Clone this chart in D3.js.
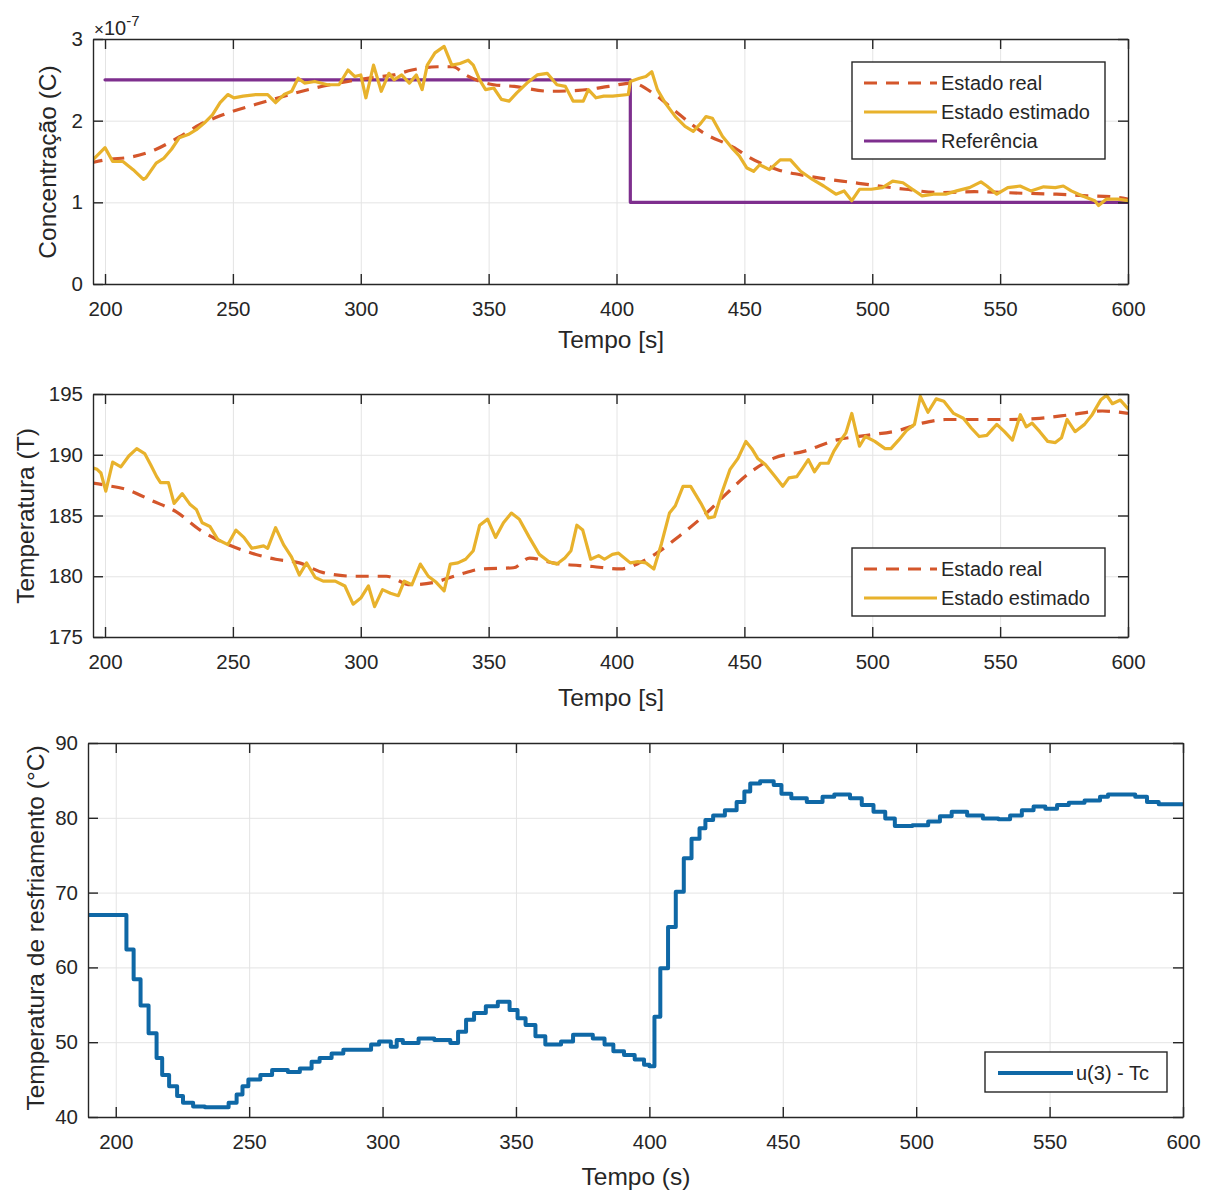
<!DOCTYPE html>
<html><head><meta charset="utf-8">
<script src="https://cdn.jsdelivr.net/npm/d3@7"></script>
<style>
html,body{margin:0;padding:0;background:#fff;}
svg{display:block;font-family:"Liberation Sans",Arial,Helvetica,sans-serif;}
</style></head>
<body>
<svg id="chart" width="1213" height="1191"></svg>
<script>
// ---------------- DATA ----------------
const xTicks = [200, 250, 300, 350, 400, 450, 500, 550, 600];
const concTicks = [0, 1, 2, 3];          // ×10^-7
const tempTicks = [175, 180, 185, 190, 195];
const coolTicks = [40, 50, 60, 70, 80, 90];
const concExponent = "-7";

const legendTop = ["Estado real", "Estado estimado", "Referência"];
const legendMid = ["Estado real", "Estado estimado"];
const legendBot = ["u(3) - Tc"];

// Concentração (×10^-7): [tempo, valor]
const concReal = [[194,1.48],[200,1.52],[211,1.56],[220,1.65],[229,1.80],[237,1.95],[245,2.06],[259,2.20],[270,2.30],[282,2.40],[295,2.48],[305,2.53],[313,2.56],[320,2.62],[330,2.66],[336,2.66],[341,2.56],[352,2.44],[360,2.42],[374,2.36],[385,2.37],[397,2.42],[406,2.46],[415,2.32],[424,2.09],[434,1.85],[446,1.67],[452,1.55],[463,1.40],[475,1.32],[493,1.24],[513,1.16],[526,1.12],[540,1.13],[560,1.11],[572,1.10],[584,1.08],[593,1.07],[600,1.04]];
const concEstimated = [[194,1.48],[200,1.67],[203,1.50],[207,1.50],[211,1.40],[215,1.28],[216,1.30],[220,1.48],[223,1.54],[226,1.65],[229,1.79],[232.5,1.83],[235.7,1.89],[238.8,1.97],[242,2.07],[245,2.22],[248,2.32],[250.4,2.28],[254,2.30],[259,2.32],[263.6,2.32],[266.7,2.22],[270,2.32],[273,2.36],[275.5,2.52],[278,2.46],[282,2.48],[287,2.44],[291.5,2.44],[295,2.62],[297.7,2.54],[300,2.56],[302,2.28],[305,2.68],[308,2.36],[311,2.58],[313,2.50],[316,2.56],[319,2.46],[321.7,2.56],[324,2.38],[326,2.68],[329,2.83],[332.6,2.91],[335.6,2.68],[338.8,2.70],[342,2.74],[344,2.68],[346.5,2.50],[348.8,2.38],[352,2.40],[355,2.26],[358,2.24],[361,2.34],[365,2.46],[369,2.56],[372.9,2.58],[376.7,2.44],[380,2.42],[383,2.24],[387,2.24],[389,2.38],[392,2.28],[395,2.30],[398.5,2.30],[404.6,2.32],[405.4,2.48],[409,2.52],[411.5,2.54],[413.8,2.60],[416,2.38],[419,2.22],[423,2.05],[426.8,1.93],[430,1.87],[433,1.97],[435,2.05],[437.5,2.03],[441.4,1.81],[445,1.67],[448,1.57],[451,1.42],[453.6,1.38],[456,1.46],[459.8,1.40],[464,1.52],[468,1.52],[472,1.38],[476.6,1.28],[481,1.20],[485.8,1.10],[489,1.14],[492,1.02],[495,1.16],[499.6,1.16],[504,1.18],[508,1.26],[512,1.24],[515.7,1.16],[519.5,1.08],[524,1.10],[528.7,1.10],[533,1.14],[538,1.18],[542.5,1.25],[544.8,1.20],[548.7,1.10],[553,1.18],[557.8,1.20],[562,1.14],[567,1.19],[571.6,1.18],[574.7,1.20],[577.8,1.14],[582,1.08],[587,1.02],[588.5,0.96],[591.6,1.04],[596,1.04],[600,1.02]];
const concReference = [[200,2.5],[405.4,2.5],[405.4,1.0],[600,1.0]];

// Temperatura (T): [tempo, valor]
const tempReal = [[194,187.7],[200,187.5],[209,187.1],[218.6,186.2],[227.9,185.3],[237.2,183.8],[245,182.9],[257.4,181.9],[266.7,181.4],[276,181.1],[285.3,180.3],[297.7,180.0],[310,180.0],[319.4,179.3],[328.7,179.5],[338,180.1],[347.3,180.6],[359.7,180.7],[366,181.5],[375,181.1],[390.7,180.8],[401.5,180.6],[409,181.1],[415,181.8],[424.5,183.3],[433.7,184.9],[443,186.8],[452,188.5],[461.3,189.7],[473.6,190.3],[485.8,191.2],[498,191.6],[510.3,192.0],[519.5,192.6],[528.7,192.9],[541,192.9],[553.3,192.9],[565.5,193.0],[577.8,193.3],[590,193.6],[600,193.4]];
const tempEstimated = [[194.1,189.0],[196.9,188.8],[198.4,188.5],[200.3,187.0],[203,189.4],[206.2,189.0],[209.3,189.9],[212.4,190.5],[215.5,190.1],[217.8,189.2],[220.2,188.2],[221.7,187.7],[224.8,187.7],[227,186.0],[230.2,186.8],[233.3,185.9],[235.7,185.5],[238,184.4],[241,184.1],[244.2,183.0],[248,182.6],[251.2,183.8],[254.3,183.2],[257.4,182.3],[262,182.5],[263.6,182.3],[266.7,184.0],[269.8,182.6],[272.9,181.6],[276,180.1],[278.8,181.1],[282.2,179.9],[285.3,179.6],[290,179.6],[293.8,179.2],[297,177.7],[300,178.2],[303,179.2],[305.4,177.5],[308.5,178.9],[311.6,178.6],[314.7,178.4],[317,179.6],[320,179.3],[323.3,181.0],[326.4,180.0],[329.5,179.5],[332.6,178.8],[335,181.0],[338,181.1],[341,181.4],[344,182.1],[346.5,184.2],[349.6,184.7],[352.7,183.2],[355.8,184.4],[358.9,185.2],[362,184.7],[365.9,183.2],[369.8,181.8],[373.6,181.2],[376.7,181.0],[379.8,181.5],[382.2,182.1],[384.5,184.2],[386.8,183.8],[389.9,181.4],[393,181.7],[395.3,181.4],[398.4,181.8],[400.8,181.9],[405.4,181.1],[408.4,181.2],[411.5,181.1],[414.6,180.6],[417.6,182.7],[420.7,185.2],[423,185.8],[426,187.4],[429,187.4],[433,186.0],[436,184.8],[438.3,184.9],[441.4,187.0],[444.4,188.8],[447.5,189.7],[450.6,191.1],[452.9,190.5],[455.2,189.7],[458.2,189.2],[462,188.2],[465,187.4],[467.4,188.1],[470.5,188.2],[472.8,188.9],[475,189.6],[477.4,188.6],[479.7,189.3],[482.8,189.3],[485,190.3],[487.4,191.1],[489.7,191.8],[492,193.4],[495,190.7],[497.3,191.5],[501,191.1],[505,190.5],[507.3,190.5],[510.3,191.2],[513.4,192.0],[516.5,192.5],[518.8,194.8],[521.8,193.5],[525,194.6],[528,194.4],[531.8,193.4],[535.6,193.0],[538.7,192.2],[541.8,191.5],[544.8,191.6],[548.7,192.5],[551.7,191.9],[554.8,191.2],[557.9,193.3],[560.2,192.3],[562.5,192.6],[565.5,191.9],[568.6,191.1],[571.6,191.0],[574,191.4],[576.2,192.9],[579.3,191.9],[583,192.5],[586,193.3],[589.3,194.5],[591.6,194.9],[593.9,194.2],[597,194.5],[600,193.8]];

// Temperatura de resfriamento u(3) - Tc (stairs): [início do degrau, valor]
const coolTc = [[189.6,67.0],[204,62.4],[206.7,58.4],[209.3,54.9],[212.3,51.2],[215.3,47.9],[217.4,45.6],[220,44.1],[223,42.8],[225.2,41.9],[229,41.4],[233.4,41.3],[242.3,41.9],[245.3,43.0],[247.5,44.1],[249.7,45.0],[254.2,45.6],[258.6,46.3],[264.5,46.0],[269,46.5],[273.4,47.4],[276.4,47.9],[280.9,48.5],[285.3,49.0],[295.7,49.7],[298.7,50.1],[303.1,49.4],[305.3,50.3],[307.6,49.9],[313.5,50.5],[319.4,50.3],[325.4,49.9],[328.3,51.4],[331.3,53.0],[334.3,53.9],[338.7,54.8],[343.2,55.4],[347.6,54.3],[350.6,53.2],[353.6,52.3],[357.3,50.8],[361,49.7],[366.9,50.1],[371.4,51.0],[378.8,50.5],[383.2,49.7],[386.5,48.8],[390.5,48.3],[394.5,47.7],[398,47.0],[400,46.8],[401.9,53.4],[404.1,59.9],[407,65.4],[409.9,70.1],[412.9,74.6],[415.8,77.2],[418.8,78.6],[421,79.7],[423.9,80.3],[428.3,81.0],[432.7,82.1],[435.6,83.5],[437.8,84.6],[441.5,84.9],[446.6,84.4],[449.5,83.2],[453.2,82.6],[459,82.1],[464.9,82.8],[469.3,83.1],[475.2,82.6],[479.6,81.7],[484,80.8],[488.4,79.9],[492,78.9],[498.6,79.0],[504.5,79.5],[508.9,80.2],[513.3,80.8],[519.1,80.3],[525,79.9],[530.8,79.8],[535.2,80.3],[539.6,81.0],[544,81.5],[548.4,81.2],[552.8,81.7],[557.2,82.0],[563.1,82.3],[568.9,82.8],[571.9,83.1],[582.1,82.8],[586.5,82.1],[590.9,81.8],[600,81.8]];

// ---------------- STYLE ----------------
const C_REAL = "#d4562b", C_EST = "#e8b22c", C_REF = "#7e2f8e", C_TC = "#0f68a6";
const AX = "#262626", GRID = "#e4e4e4";
const fmtInt = d3.format("d");

const svg = d3.select("#chart");
let clipId = 0;

function drawPanel(cfg) {
  const g = svg.append("g");
  const x = d3.scaleLinear().domain(cfg.xDomain).range([cfg.left, cfg.right]);
  const y = d3.scaleLinear().domain(cfg.yDomain).range([cfg.bottom, cfg.top]);
  const h = cfg.bottom - cfg.top, w = cfg.right - cfg.left;

  // grid
  g.append("g").attr("transform", `translate(0,${cfg.bottom})`)
    .call(d3.axisBottom(x).tickValues(xTicks).tickSize(-h).tickFormat(""))
    .call(s => { s.select(".domain").remove(); s.selectAll("line").attr("stroke", GRID).attr("stroke-width", 1); });
  g.append("g").attr("transform", `translate(${cfg.left},0)`)
    .call(d3.axisLeft(y).tickValues(cfg.yTicks).tickSize(-w).tickFormat(""))
    .call(s => { s.select(".domain").remove(); s.selectAll("line").attr("stroke", GRID).attr("stroke-width", 1); });

  // clip
  const id = "clip" + (clipId++);
  svg.append("clipPath").attr("id", id).append("rect")
    .attr("x", cfg.left).attr("y", cfg.top - 3).attr("width", w).attr("height", h + 6);
  const plot = g.append("g").attr("clip-path", `url(#${id})`);

  cfg.series.forEach(s => {
    const line = d3.line().x(d => x(d[0])).y(d => y(d[1])).curve(s.curve || d3.curveLinear);
    plot.append("path").datum(s.data)
      .attr("fill", "none").attr("stroke", s.color).attr("stroke-width", s.width)
      .attr("stroke-dasharray", s.dash || null)
      .attr("stroke-linejoin", "round").attr("stroke-linecap", s.dash ? "butt" : "round")
      .attr("d", line);
  });

  // axes (box)
  const styleAxis = s => {
    s.select(".domain").attr("stroke", AX).attr("stroke-width", 1.4);
    s.selectAll(".tick line").attr("stroke", AX).attr("stroke-width", 1.4);
    s.selectAll(".tick text").attr("fill", AX).attr("font-size", 20.5);
  };
  g.append("g").attr("transform", `translate(0,${cfg.bottom})`)
    .call(d3.axisBottom(x).tickValues(xTicks).tickFormat(fmtInt).tickSizeInner(-10).tickSizeOuter(0).tickPadding(17))
    .call(styleAxis);
  g.append("g").attr("transform", `translate(0,${cfg.top})`)
    .call(d3.axisTop(x).tickValues(xTicks).tickSizeInner(-10).tickSizeOuter(0).tickFormat(""))
    .call(styleAxis);
  g.append("g").attr("transform", `translate(${cfg.left},0)`)
    .call(d3.axisLeft(y).tickValues(cfg.yTicks).tickFormat(fmtInt).tickSizeInner(-10).tickSizeOuter(0).tickPadding(10))
    .call(styleAxis);
  g.append("g").attr("transform", `translate(${cfg.right},0)`)
    .call(d3.axisRight(y).tickValues(cfg.yTicks).tickSizeInner(-10).tickSizeOuter(0).tickFormat(""))
    .call(styleAxis);

  // labels
  g.append("text").attr("x", cfg.xLabelX).attr("y", cfg.xLabelY)
    .attr("text-anchor", "middle").attr("font-size", 24.5).attr("fill", AX).text(cfg.xLabel);
  g.append("text").attr("transform", `translate(${cfg.yLabelX},${cfg.yLabelY}) rotate(-90)`)
    .attr("text-anchor", "middle").attr("font-size", 24.5).attr("fill", AX).text(cfg.yLabel);

  // legend
  const L = cfg.legend;
  g.append("rect").attr("x", L.x).attr("y", L.y).attr("width", L.w).attr("height", L.h)
    .attr("fill", "#fff").attr("stroke", AX).attr("stroke-width", 1.4);
  L.items.forEach((it, i) => {
    const cy = L.rows[i];
    g.append("line").attr("x1", L.lx1).attr("x2", L.lx2).attr("y1", cy).attr("y2", cy)
      .attr("stroke", it.color).attr("stroke-width", it.width).attr("stroke-dasharray", it.dash || null);
    g.append("text").attr("x", L.tx).attr("y", cy).attr("dy", "0.36em")
      .attr("font-size", 20).attr("fill", AX).text(it.label);
  });
  return { x, y, g };
}

// Top panel
const topPanel = drawPanel({
  left: 93, right: 1128, top: 39, bottom: 284,
  xDomain: [195.3, 600], yDomain: [0, 3], yTicks: concTicks,
  xLabel: "Tempo [s]", xLabelX: 611, xLabelY: 348,
  yLabel: "Concentração (C)", yLabelX: 56, yLabelY: 162,
  series: [
    { data: concReference, color: C_REF, width: 3.2 },
    { data: concReal, color: C_REAL, width: 3.2, dash: "13,9", curve: d3.curveMonotoneX },
    { data: concEstimated, color: C_EST, width: 3.2 }
  ],
  legend: { x: 852, y: 62, w: 253, h: 97, lx1: 864, lx2: 937, tx: 941, rows: [83, 112, 141],
    items: [
      { label: legendTop[0], color: C_REAL, width: 3.2, dash: "13,9" },
      { label: legendTop[1], color: C_EST, width: 3.2 },
      { label: legendTop[2], color: C_REF, width: 3.2 }
    ] }
});
// exponent label
const ex = topPanel.g.append("text").attr("x", 94).attr("y", 35).attr("fill", AX);
ex.append("tspan").attr("font-size", 17).text("×");
ex.append("tspan").attr("font-size", 20).text("10");
ex.append("tspan").attr("font-size", 15).attr("dy", -9).text(concExponent);

// Middle panel
drawPanel({
  left: 93, right: 1128, top: 394, bottom: 637,
  xDomain: [195.3, 600], yDomain: [175, 195], yTicks: tempTicks,
  xLabel: "Tempo [s]", xLabelX: 611, xLabelY: 706,
  yLabel: "Temperatura (T)", yLabelX: 34, yLabelY: 516,
  series: [
    { data: tempReal, color: C_REAL, width: 3.2, dash: "13,9", curve: d3.curveMonotoneX },
    { data: tempEstimated, color: C_EST, width: 3.2 }
  ],
  legend: { x: 852, y: 548, w: 253, h: 68, lx1: 864, lx2: 937, tx: 941, rows: [569, 598],
    items: [
      { label: legendMid[0], color: C_REAL, width: 3.2, dash: "13,9" },
      { label: legendMid[1], color: C_EST, width: 3.2 }
    ] }
});

// Bottom panel
drawPanel({
  left: 88, right: 1183, top: 743, bottom: 1117,
  xDomain: [189.6, 600], yDomain: [40, 90], yTicks: coolTicks,
  xLabel: "Tempo (s)", xLabelX: 636, xLabelY: 1185,
  yLabel: "Temperatura de resfriamento (°C)", yLabelX: 44, yLabelY: 928,
  series: [
    { data: coolTc, color: C_TC, width: 4, curve: d3.curveStepAfter }
  ],
  legend: { x: 985, y: 1052, w: 182, h: 40, lx1: 998, lx2: 1073, tx: 1076, rows: [1073],
    items: [ { label: legendBot[0], color: C_TC, width: 4 } ] }
});
</script>
</body></html>
